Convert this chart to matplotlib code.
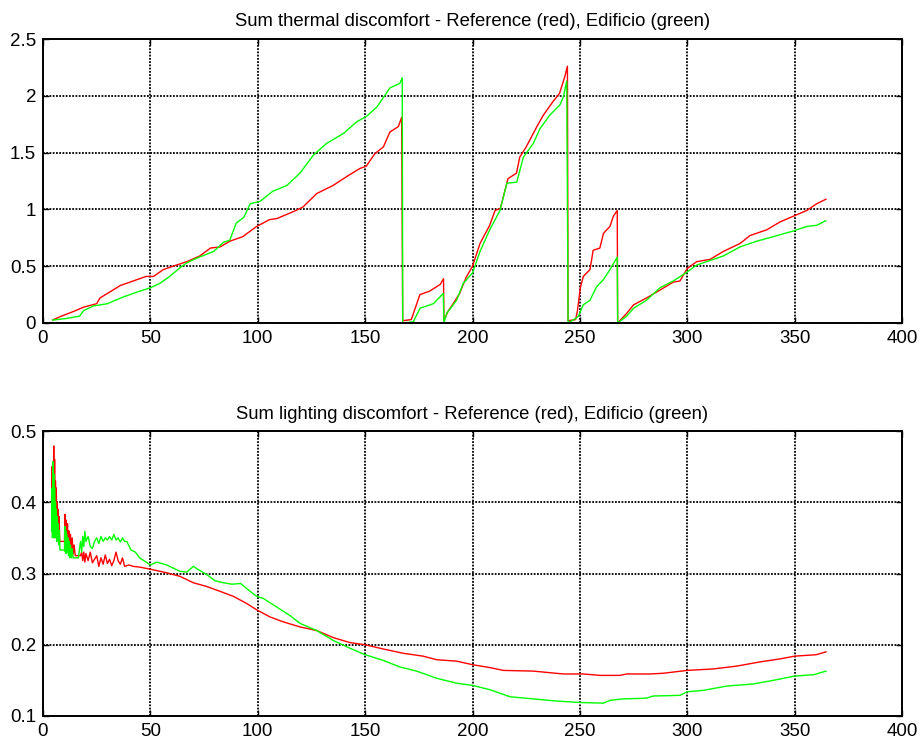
import matplotlib
matplotlib.use("Agg")
import matplotlib.pyplot as plt

plt.rcParams['font.family'] = ['Liberation Sans', 'DejaVu Sans']

# ---------------- data: thermal discomfort ----------------
thermal_red_days = [4.5, 8, 14, 19, 25, 26.5, 30, 36, 43.5, 48, 51.5, 56, 60.5, 67, 73, 78, 82.5, 87,
                    93, 99.5, 105.5, 109, 116.5, 121, 127.5, 135, 141.5, 147.5, 150.5, 154.5, 158.5,
                    161.5, 165.5, 167, 167.5, 171.5, 175.5, 180, 185, 186.5, 186.7, 188.5, 191, 194,
                    197, 200, 203.5, 208, 210.5, 213, 216.5, 220.5, 222, 225, 230, 233, 237.5, 240.5,
                    243, 244.2, 244.5, 248, 248.8, 249.5, 250.2, 251.6, 254.7, 256.2, 259.3, 261, 264,
                    265.6, 267.4, 267.6, 271.8, 275, 281, 287.3, 293.5, 296.6, 300, 304.4, 310.6, 316.8,
                    324.6, 329.2, 337, 343.2, 349.4, 355.6, 360.3, 364.6]
thermal_red = [0.026, 0.056, 0.10, 0.14, 0.17, 0.22, 0.26, 0.33, 0.38, 0.41, 0.41, 0.47, 0.50, 0.54,
               0.59, 0.66, 0.67, 0.72, 0.76, 0.85, 0.91, 0.92, 0.98, 1.02, 1.14, 1.21, 1.29, 1.36, 1.38,
               1.49, 1.55, 1.68, 1.73, 1.81, 0.02, 0.03, 0.25, 0.28, 0.34, 0.39, 0.02, 0.10, 0.17, 0.26,
               0.40, 0.50, 0.70, 0.86, 0.99, 1.01, 1.27, 1.32, 1.46, 1.55, 1.73, 1.83, 1.95, 2.02, 2.17,
               2.26, 0.02, 0.03, 0.10, 0.20, 0.31, 0.41, 0.47, 0.64, 0.66, 0.79, 0.85, 0.94, 0.99, 0.0,
               0.085, 0.16, 0.22, 0.29, 0.36, 0.37, 0.48, 0.54, 0.56, 0.63, 0.70, 0.77, 0.82, 0.89, 0.94,
               0.99, 1.05, 1.09]

thermal_green_days = [4.5, 11, 17, 19, 23.5, 30, 37.5, 45, 50, 54.5, 59, 64, 67, 71.5, 79.5, 84, 87,
                      90, 93.5, 96.5, 101, 107, 113.5, 119.7, 126, 132, 140, 146, 150.7, 155.4, 161.6,
                      166.2, 167.3, 167.5, 172.4, 175.6, 181.8, 186.4, 186.7, 188, 192.6, 195.7, 200,
                      203.5, 208, 212.8, 216, 220.6, 223.7, 228.3, 231.4, 236, 240.7, 242.3, 243.9,
                      244.5, 248, 249.3, 251.6, 254.7, 257.8, 260.9, 264, 267.4, 267.6, 271.8, 275, 281,
                      287.3, 293.5, 300, 304.4, 310.6, 316.8, 324.6, 332.3, 340, 349.4, 355.6, 360.3, 364.5]
thermal_green = [0.026, 0.04, 0.06, 0.11, 0.15, 0.17, 0.23, 0.28, 0.31, 0.35, 0.41, 0.49, 0.53, 0.57,
                 0.63, 0.71, 0.73, 0.88, 0.93, 1.05, 1.07, 1.16, 1.21, 1.32, 1.48, 1.58, 1.67, 1.77, 1.82,
                 1.90, 2.07, 2.11, 2.16, 0.0, 0.01, 0.13, 0.17, 0.26, 0.0, 0.085, 0.20, 0.35, 0.44, 0.63,
                 0.82, 0.99, 1.23, 1.24, 1.46, 1.58, 1.71, 1.83, 1.92, 1.99, 2.13, 0.0, 0.04, 0.06, 0.16,
                 0.20, 0.32, 0.38, 0.47, 0.58, 0.0, 0.06, 0.13, 0.20, 0.31, 0.37, 0.45, 0.51, 0.55, 0.59,
                 0.67, 0.72, 0.76, 0.81, 0.85, 0.86, 0.90]

# ---------------- data: lighting discomfort ----------------
light_red_days = [4.0, 4.2, 4.4, 4.6, 4.8, 5.0, 5.2, 5.4, 5.6, 5.8, 6.0, 6.2, 6.4, 6.6, 6.8, 7.0, 7.2,
                  7.5, 7.8, 10.0, 10.2, 10.5, 10.8, 11.1, 11.4, 11.7, 12.0, 12.4, 12.8, 13.2, 13.6, 14.0,
                  14.5, 15.0, 17.5, 18.0, 18.5, 19.0, 19.5, 20.0, 21, 22, 23, 24, 25, 26, 27, 28, 29, 30,
                  31, 32, 33, 34, 35, 36, 37, 38, 40, 42, 45, 50, 57.6, 63.8, 70, 76, 82.4, 88.6, 94.8,
                  99.5, 105.7, 112, 119.7, 127.4, 135.2, 143, 150, 158.5, 167.8, 177, 183.3, 192.6, 200,
                  208, 214.3, 228.3, 242.3, 251.6, 259.4, 268.7, 271.8, 282.7, 288.9, 300, 312, 323, 334,
                  343, 350, 360, 364.6]
light_red = [0.40, 0.45, 0.36, 0.44, 0.38, 0.479, 0.37, 0.46, 0.36, 0.43, 0.35, 0.42, 0.36, 0.40, 0.35,
             0.39, 0.35, 0.38, 0.345, 0.345, 0.383, 0.35, 0.375, 0.34, 0.37, 0.335, 0.36, 0.33, 0.355,
             0.33, 0.35, 0.327, 0.34, 0.325, 0.325, 0.33, 0.318, 0.33, 0.316, 0.328, 0.318, 0.33, 0.315,
             0.32, 0.325, 0.31, 0.322, 0.313, 0.326, 0.314, 0.32, 0.311, 0.318, 0.33, 0.318, 0.313,
             0.322, 0.31, 0.312, 0.31, 0.309, 0.306, 0.301, 0.296, 0.287, 0.282, 0.275, 0.268, 0.258,
             0.249, 0.239, 0.232, 0.225, 0.220, 0.210, 0.203, 0.200, 0.194, 0.188, 0.184, 0.179, 0.177,
             0.172, 0.168, 0.164, 0.163, 0.159, 0.159, 0.157, 0.157, 0.159, 0.159, 0.160, 0.164, 0.166,
             0.170, 0.176, 0.180, 0.184, 0.186, 0.190]

light_green_days = [4.0, 4.2, 4.4, 4.6, 4.8, 5.0, 5.2, 5.4, 5.6, 5.8, 6.0, 6.2, 6.4, 6.6, 6.8, 7.0,
                    7.3, 7.6, 7.9, 10.0, 10.2, 10.4, 10.6, 10.8, 11.0, 11.3, 11.6, 11.9, 12.2, 12.5, 12.8,
                    13.2, 13.6, 14.0, 16.5, 17, 17.5, 18, 18.5, 19, 19.5, 20, 21, 22, 23, 24, 25, 26, 27,
                    28, 29, 30, 31, 32, 33, 34, 35, 36, 37, 38, 39, 41, 43, 45, 48, 50, 53, 57.6, 63.8, 67,
                    70, 72, 76, 80, 84, 88, 92, 96, 99.5, 102.6, 108.8, 115, 119.7, 127.4, 135.2, 143, 150,
                    158.5, 166, 174, 183.3, 192.6, 200, 208, 217.5, 228.3, 239, 250, 261, 264, 270, 281,
                    284, 296.6, 300, 307.5, 318.4, 330.8, 340, 350, 359, 364.6]
light_green = [0.36, 0.42, 0.35, 0.457, 0.37, 0.44, 0.35, 0.42, 0.36, 0.40, 0.35, 0.39, 0.345, 0.38,
               0.35, 0.37, 0.34, 0.36, 0.333, 0.333, 0.366, 0.33, 0.36, 0.328, 0.355, 0.33, 0.35, 0.325,
               0.345, 0.322, 0.34, 0.322, 0.335, 0.322, 0.322, 0.335, 0.345, 0.33, 0.352, 0.338, 0.359,
               0.345, 0.352, 0.338, 0.335, 0.345, 0.35, 0.342, 0.352, 0.345, 0.35, 0.347, 0.352, 0.347,
               0.355, 0.347, 0.35, 0.344, 0.35, 0.345, 0.345, 0.333, 0.33, 0.322, 0.316, 0.312, 0.316,
               0.312, 0.303, 0.302, 0.310, 0.306, 0.299, 0.290, 0.287, 0.285, 0.286, 0.276, 0.268, 0.265,
               0.253, 0.241, 0.230, 0.220, 0.206, 0.195, 0.186, 0.178, 0.169, 0.163, 0.153, 0.146, 0.143,
               0.137, 0.127, 0.124, 0.121, 0.119, 0.118, 0.122, 0.124, 0.125, 0.128, 0.129, 0.134, 0.136,
               0.142, 0.145, 0.150, 0.156, 0.158, 0.163]

x_ticks = [0, 50, 100, 150, 200, 250, 300, 350, 400]
thermal_yticks = [0, 0.5, 1, 1.5, 2, 2.5]
thermal_ylabels = ['0', '0.5', '1', '1.5', '2', '2.5']
light_yticks = [0.1, 0.2, 0.3, 0.4, 0.5]
light_ylabels = ['0.1', '0.2', '0.3', '0.4', '0.5']

titles = ['Sum thermal discomfort - Reference (red), Edificio (green)',
          'Sum lighting discomfort - Reference (red), Edificio (green)']

W, H = 922, 744
fig = plt.figure(figsize=(W / 100, H / 100), dpi=100)
left = 43 / W
width = (902 - 43) / W
ax1 = fig.add_axes([left, 1 - 323 / H, width, (323 - 39) / H])
ax2 = fig.add_axes([left, 1 - 716 / H, width, (716 - 431) / H])


def style(ax, yticks, ylabels, ylim, title):
    ax.set_xlim(0, 400)
    ax.set_ylim(*ylim)
    ax.set_xticks(x_ticks)
    ax.set_xticklabels([str(t) for t in x_ticks])
    ax.set_yticks(yticks)
    ax.set_yticklabels(ylabels)
    ax.grid(True, color='black', linestyle=(0, (1, 0.8)), linewidth=1.3)
    ax.tick_params(direction='in', top=True, right=True, length=4, width=1.0,
                   labelsize=13.5, pad=5, colors='black')
    for s in ax.spines.values():
        s.set_color('black')
        s.set_linewidth(1.4)
    ax.set_title(title, fontsize=13.3, pad=9)
    ax.set_axisbelow(True)


ax1.plot(thermal_red_days, thermal_red, color='#ff0000', linewidth=1.0)
ax1.plot(thermal_green_days, thermal_green, color='#00ff00', linewidth=1.0)
style(ax1, thermal_yticks, thermal_ylabels, (0, 2.5), titles[0])

ax2.plot(light_red_days, light_red, color='#ff0000', linewidth=1.0)
ax2.plot(light_green_days, light_green, color='#00ff00', linewidth=1.0)
style(ax2, light_yticks, light_ylabels, (0.1, 0.5), titles[1])

fig.savefig('out.png', dpi=100)
